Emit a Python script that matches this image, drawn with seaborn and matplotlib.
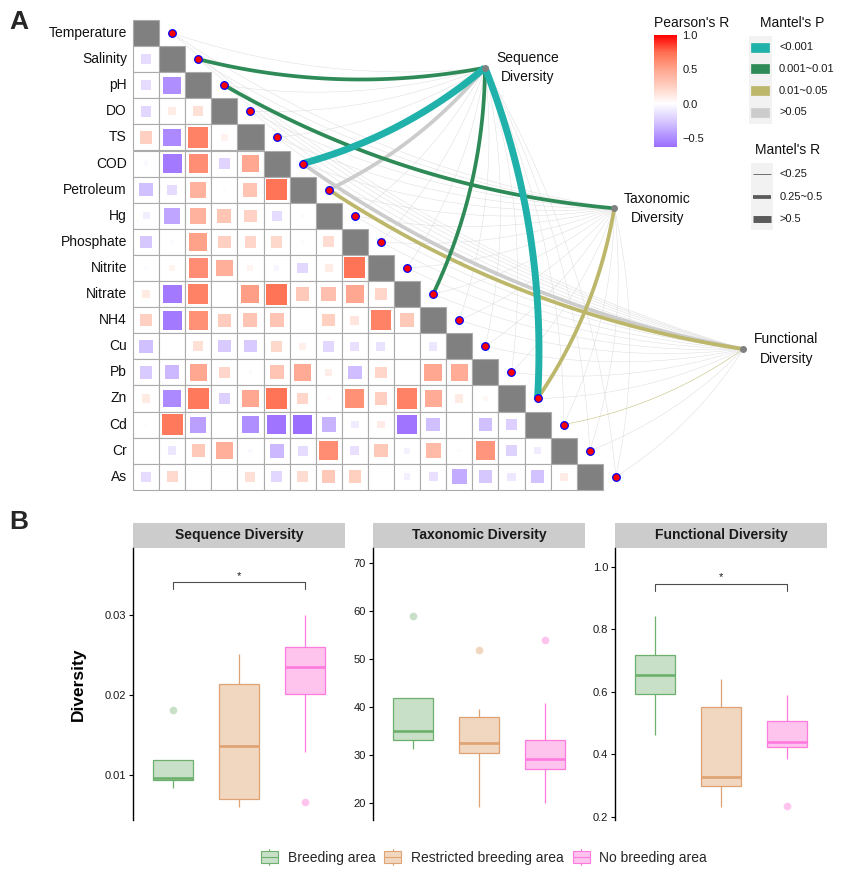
import matplotlib
matplotlib.use("Agg")
import numpy as np
import pandas as pd
import matplotlib.pyplot as plt
import seaborn as sns
from matplotlib.colors import LinearSegmentedColormap, Normalize
from matplotlib.colorbar import ColorbarBase
from matplotlib.patches import Rectangle, Patch
from matplotlib.lines import Line2D
from matplotlib.legend_handler import HandlerBase

# ---------------- panel A data ----------------
env_vars = ["Temperature", "Salinity", "pH", "DO", "TS", "COD", "Petroleum", "Hg",
            "Phosphate", "Nitrite", "Nitrate", "NH4", "Cu", "Pb", "Zn", "Cd", "Cr", "As"]

# lower triangle of the Pearson matrix, row i holds r with columns 0..i-1
pearson_lower = [
    [],
    [-0.16],
    [-0.16, -0.49],
    [-0.19, 0.10, 0.16],
    [0.25, -0.51, 0.66, 0.07],
    [-0.03, -0.58, 0.60, -0.20, 0.49],
    [-0.29, -0.16, 0.42, -0.02, 0.32, 0.72],
    [-0.08, -0.40, 0.42, 0.31, 0.24, -0.16, -0.02],
    [-0.26, -0.02, 0.51, 0.25, 0.22, 0.21, -0.02, 0.19],
    [-0.02, 0.06, 0.61, 0.44, 0.06, -0.05, -0.19, 0.10, 0.72],
    [0.11, -0.58, 0.66, 0.00, 0.53, 0.72, 0.29, 0.35, 0.49, 0.22],
    [0.25, -0.58, 0.59, 0.28, 0.32, 0.32, 0.01, 0.26, 0.14, 0.66, 0.29],
    [-0.29, -0.01, 0.16, -0.25, -0.25, 0.21, 0.08, -0.19, -0.14, -0.13, -0.01, -0.12],
    [-0.25, -0.32, 0.49, 0.22, -0.02, 0.32, 0.47, 0.09, -0.30, 0.22, 0.01, 0.49, 0.46],
    [0.11, -0.51, 0.70, -0.22, 0.49, 0.72, 0.22, 0.03, 0.59, 0.25, 0.66, 0.46, 0.11, 0.04],
    [0.02, 0.70, -0.42, 0.00, -0.49, -0.60, -0.63, -0.34, -0.09, 0.10, -0.60, -0.29, -0.01, -0.29, -0.22],
    [0.00, -0.12, 0.29, 0.44, -0.03, -0.32, -0.16, 0.61, -0.14, 0.29, -0.06, 0.37, -0.02, 0.57, -0.21, -0.09],
    [-0.16, 0.20, 0.01, -0.01, 0.16, -0.19, 0.19, 0.29, 0.26, 0.01, -0.07, -0.14, -0.37, -0.26, -0.11, -0.28, 0.10],
]

targets = ["Sequence\nDiversity", "Taxonomic\nDiversity", "Functional\nDiversity"]

mantel_r_seq = [0.12, 0.38, 0.10, 0.08, 0.15, 0.55, 0.30, 0.10, 0.12, 0.09, 0.40, 0.14, 0.07, 0.11, 0.62, 0.13, 0.06, 0.08]
mantel_p_seq = [0.32, 0.004, 0.41, 0.55, 0.21, 0.0006, 0.07, 0.38, 0.29, 0.47, 0.003, 0.18, 0.66, 0.35, 0.0003, 0.24, 0.71, 0.58]
mantel_r_tax = [0.08, 0.10, 0.36, 0.06, 0.12, 0.14, 0.09, 0.11, 0.07, 0.10, 0.13, 0.12, 0.05, 0.09, 0.31, 0.11, 0.08, 0.06]
mantel_p_tax = [0.52, 0.44, 0.006, 0.73, 0.27, 0.19, 0.48, 0.36, 0.61, 0.42, 0.22, 0.25, 0.81, 0.50, 0.03, 0.33, 0.57, 0.68]
mantel_r_fun = [0.09, 0.07, 0.11, 0.10, 0.13, 0.34, 0.32, 0.08, 0.12, 0.06, 0.15, 0.10, 0.09, 0.12, 0.14, 0.18, 0.07, 0.05]
mantel_p_fun = [0.46, 0.63, 0.31, 0.39, 0.24, 0.06, 0.02, 0.55, 0.28, 0.69, 0.12, 0.37, 0.45, 0.26, 0.09, 0.04, 0.62, 0.74]

p_labels = ["<0.001", "0.001~0.01", "0.01~0.05", ">0.05"]
r_labels = ["<0.25", "0.25~0.5", ">0.5"]

# ---------------- panel B data ----------------
groups = ["Breeding area", "Restricted breeding area", "No breeding area"]
panels = ["Sequence Diversity", "Taxonomic Diversity", "Functional Diversity"]

seq_breeding = [0.0084, 0.0091, 0.0094, 0.0095, 0.00966, 0.0112, 0.0119, 0.0119, 0.0181]
seq_restricted = [0.00594, 0.0065, 0.00695, 0.0098, 0.01368, 0.0185, 0.02142, 0.0235, 0.02518]
seq_none = [0.00665, 0.01293, 0.0201, 0.0222, 0.02351, 0.0248, 0.0260, 0.0281, 0.02995]
tax_breeding = [31.2, 32.5, 33.2, 34.1, 35.0, 38.6, 41.8, 41.8, 59.0]
tax_restricted = [19.2, 27.0, 30.3, 31.4, 32.5, 35.6, 37.8, 39.5, 52.0]
tax_none = [20.0, 25.5, 27.0, 28.0, 29.1, 31.0, 33.0, 40.9, 54.0]
fun_breeding = [0.461, 0.55, 0.592, 0.62, 0.654, 0.69, 0.717, 0.78, 0.842]
fun_restricted = [0.230, 0.27, 0.299, 0.31, 0.327, 0.45, 0.550, 0.60, 0.640]
fun_none = [0.235, 0.384, 0.424, 0.43, 0.438, 0.47, 0.506, 0.55, 0.589]

# ---------------- style ----------------
sns.set_theme(style="white")
plt.rcParams["font.family"] = ["Liberation Sans", "DejaVu Sans"]

W, H = 843, 876
CELL = 26.1
X0, Y0 = 133, 20
fig = plt.figure(figsize=(W / 100, H / 100), dpi=100)

def cx(px):
    return (px - X0) / CELL

def cy(py):
    return (py - Y0) / CELL

# overlay for legends / labels in pixel coordinates
axF = fig.add_axes([0, 0, 1, 1])
axF.set_xlim(0, W)
axF.set_ylim(H, 0)
axF.axis("off")

vmin, vmax = -0.63, 1.0
anchors = [(-0.63, "#9C6EFF"), (-0.5, "#AE8DFF"), (-0.25, "#D8CAFF"), (0.0, "#FFFFFF"),
           (0.25, "#FFD0C2"), (0.5, "#FFA58E"), (0.75, "#FF6E50"), (1.0, "#FF0000")]
cmap = LinearSegmentedColormap.from_list(
    "pearson", [((v - vmin) / (vmax - vmin), c) for v, c in anchors])
norm = Normalize(vmin, vmax)

# ---------------- panel A ----------------
axA = fig.add_axes([0, 1 - 500 / H, 1, 500 / H])
axA.axis("off")
n = len(env_vars)

for i in range(n):
    for j in range(i + 1):
        axA.add_patch(Rectangle((j, i), 1, 1, facecolor="#808080" if i == j else "white",
                                edgecolor="#ABABAB", lw=0.8, zorder=1))
    axA.text(-0.23, i + 0.5, env_vars[i], ha="right", va="center", fontsize=10, color="#111111")

rows, cols, vals = [], [], []
for i, row in enumerate(pearson_lower):
    for j, r in enumerate(row):
        rows.append(i + 0.5)
        cols.append(j + 0.5)
        vals.append(r)
corr_df = pd.DataFrame({"x": cols, "y": rows, "r": vals})
corr_df["absr"] = corr_df["r"].abs()
side_pt = 0.95 * CELL * 0.72
sns.scatterplot(data=corr_df, x="x", y="y", hue="r", palette=cmap, hue_norm=norm,
                size="absr", sizes=(0, side_pt ** 2), size_norm=(0, 1), marker="s",
                linewidth=0, legend=False, ax=axA, zorder=3)

# mantel links
node_px = [(485, 67.7), (614.3, 208.3), (743.3, 349)]
nodes = [(cx(a), cy(b)) for a, b in node_px]
mantel_r = [mantel_r_seq, mantel_r_tax, mantel_r_fun]
mantel_p = [mantel_p_seq, mantel_p_tax, mantel_p_fun]
p_colors = ["#20B2AA", "#2E8B57", "#BDB76B", "#CCCCCC"]
r_widths = [0.35, 2.7, 5.0]

def p_class(p):
    return 0 if p < 0.001 else 1 if p < 0.01 else 2 if p < 0.05 else 3

def r_class(r):
    return 0 if r < 0.25 else 1 if r < 0.5 else 2

def bezier(p0, p1, k=0.11, num=80):
    p0, p1 = np.asarray(p0), np.asarray(p1)
    d = p1 - p0
    ctrl = (p0 + p1) / 2 + k * np.array([d[1], -d[0]])
    t = np.linspace(0, 1, num)[:, None]
    return (1 - t) ** 2 * p0 + 2 * (1 - t) * t * ctrl + t ** 2 * p1

links = []
for t in range(3):
    for i in range(n):
        links.append((r_class(mantel_r[t][i]), -p_class(mantel_p[t][i]), t, i))
links.sort()
for rc, npc, t, i in links:
    pts = bezier(nodes[t], (i + 1.5, i + 0.5))
    col = p_colors[-npc]
    if rc == 0 and -npc == 3:
        col = "#DCDCDC"
    axA.plot(pts[:, 0], pts[:, 1], color=col, lw=r_widths[rc], solid_capstyle="butt",
             zorder=2 + rc)

env_x = [i + 1.5 for i in range(n)]
env_y = [i + 0.5 for i in range(n)]
axA.scatter(env_x, env_y, s=30, c="red", edgecolors="blue", linewidths=0.9, zorder=8)
axA.scatter([p[0] for p in nodes], [p[1] for p in nodes], s=16, c="#808080", zorder=8)
for (nx, ny), lab in zip(nodes, targets):
    axA.text(nx + 43 / CELL, ny, lab, ha="center", va="center", fontsize=10,
             linespacing=1.5, color="#111111")

axA.set_xlim(cx(0), cx(W))
axA.set_ylim(cy(500), cy(0))

# Pearson colourbar
cax = fig.add_axes([654 / W, 1 - 146.7 / H, 22.7 / W, 111.7 / H])
cb = ColorbarBase(cax, cmap=cmap, norm=norm, orientation="vertical")
cb.set_ticks([1.0, 0.5, 0.0, -0.5])
cb.set_ticklabels(["1.0", "0.5", "0.0", "\u22120.5"])
cb.outline.set_visible(False)
cax.tick_params(axis="y", direction="in", length=4, width=0.8, color="white",
                left=True, right=True, labelsize=8, labelcolor="#1A1A1A", pad=4)
axF.text(654, 23, "Pearson's R", ha="left", va="center", fontsize=10, color="#111111")

# Mantel's P legend
axF.text(760, 23, "Mantel's P", ha="left", va="center", fontsize=10, color="#111111")
axF.add_patch(Rectangle((749, 36), 23, 88, facecolor="#F2F2F2", edgecolor="none"))
for k, (lab, col) in enumerate(zip(p_labels, p_colors)):
    yc = 47 + k * 21.8
    axF.add_patch(Rectangle((751, yc - 4.5), 18, 9, facecolor=col, edgecolor=col, lw=0.5))
    axF.text(779, yc, lab, ha="left", va="center", fontsize=8, color="#1A1A1A")

# Mantel's R legend
axF.text(755, 150.5, "Mantel's R", ha="left", va="center", fontsize=10, color="#111111")
axF.add_patch(Rectangle((751, 163), 22, 67, facecolor="#F2F2F2", edgecolor="none"))
for k, (lab, w) in enumerate(zip(r_labels, r_widths)):
    yc = 174.3 + k * 22.5
    axF.plot([753, 771], [yc, yc], color="#5A5A5A", lw=w if k else 0.6, solid_capstyle="butt")
    axF.text(780, yc, lab, ha="left", va="center", fontsize=8, color="#1A1A1A")

axF.text(19, 22, "A", ha="center", va="center", fontsize=19, fontweight="bold")
axF.text(19, 522, "B", ha="center", va="center", fontsize=19, fontweight="bold")

# ---------------- panel B ----------------
panel_data = {
    "Sequence Diversity": [seq_breeding, seq_restricted, seq_none],
    "Taxonomic Diversity": [tax_breeding, tax_restricted, tax_none],
    "Functional Diversity": [fun_breeding, fun_restricted, fun_none],
}
records = []
for p in panels:
    for g, values in zip(groups, panel_data[p]):
        for v in values:
            records.append({"panel": p, "group": g, "value": v})
box_df = pd.DataFrame(records)

fills = ["#C8DFC8", "#F2D7C0", "#FFC4EE"]
edges = ["#6DB06D", "#DFA272", "#FF7ADF"]

panel_left = [133, 373, 615]
ylims = [(0.004375, 0.038375), (16.39, 73.2), (0.1894, 1.0598)]
yticks = [[0.01, 0.02, 0.03], [20, 30, 40, 50, 60, 70], [0.2, 0.4, 0.6, 0.8, 1.0]]
ytlabels = [["0.01", "0.02", "0.03"], ["20", "30", "40", "50", "60", "70"],
            ["0.2", "0.4", "0.6", "0.8", "1.0"]]
brackets = {0: (0.0333, 0.0341, 0.03444), 2: (0.923, 0.944, 0.9558)}

for k, p in enumerate(panels):
    ax = fig.add_axes([panel_left[k] / W, 1 - 820 / H, 212 / W, 272 / H])
    sub = box_df[box_df["panel"] == p]
    for g, fc, ec in zip(groups, fills, edges):
        sns.boxplot(data=sub[sub["group"] == g], x="group", y="value", order=groups,
                    color=fc, linecolor=ec, saturation=1, width=0.6, linewidth=0.9,
                    showcaps=False, ax=ax,
                    medianprops=dict(linewidth=1.9, color=ec),
                    flierprops=dict(marker="o", markerfacecolor=fc, markeredgecolor=fc,
                                    markersize=4.5))
    ax.set_xlim(-0.6, 2.6)
    ax.set_ylim(*ylims[k])
    ax.set_yticks(yticks[k])
    ax.set_yticklabels(ytlabels[k])
    ax.set_xticks([])
    ax.set_xlabel("")
    ax.set_ylabel("")
    for s in ["top", "right", "bottom"]:
        ax.spines[s].set_visible(False)
    ax.spines["left"].set_color("black")
    ax.spines["left"].set_linewidth(1.0)
    ax.tick_params(axis="y", left=True, length=3, width=0.8, color="black",
                   labelsize=8, labelcolor="#1A1A1A", pad=2)
    ax.add_patch(Rectangle((0, 1), 1, 25 / 272, transform=ax.transAxes, facecolor="#CCCCCC",
                           edgecolor="none", clip_on=False))
    ax.text(0.5, 1 + 12.5 / 272, p, transform=ax.transAxes, ha="center", va="center",
            fontsize=10, fontweight="bold", color="#1A1A1A")
    if k in brackets:
        y0, y1, ys = brackets[k]
        ax.plot([0, 0, 2, 2], [y0, y1, y1, y0], color="#4D4D4D", lw=0.8)
        ax.text(1, ys, "*", ha="center", va="baseline", fontsize=8, color="#1A1A1A")

axF.text(78, 684, "Diversity", rotation=90, ha="center", va="center", fontsize=12.5,
         fontweight="bold", color="black")


class BoxKey(HandlerBase):
    def create_artists(self, legend, orig_handle, xdescent, ydescent, width, height,
                       fontsize, trans):
        fc = orig_handle.get_facecolor()
        ec = orig_handle.get_edgecolor()
        x0, y0 = -xdescent, -ydescent
        xm, ym = x0 + width / 2, y0 + height / 2
        box = Rectangle((x0, y0 + 0.12 * height), width, 0.76 * height, facecolor=fc,
                        edgecolor=ec, lw=0.8, transform=trans)
        med = Line2D([x0, x0 + width], [ym, ym], color=ec, lw=0.8, transform=trans)
        top = Line2D([xm, xm], [y0 + 0.88 * height, y0 + height], color=ec, lw=0.8, transform=trans)
        bot = Line2D([xm, xm], [y0, y0 + 0.12 * height], color=ec, lw=0.8, transform=trans)
        return [box, med, top, bot]


handles = [Patch(facecolor=fc, edgecolor=ec) for fc, ec in zip(fills, edges)]
fig.legend(handles, groups, loc="center", bbox_to_anchor=(484 / W, 1 - 857 / H), ncol=3,
           frameon=False, fontsize=10, handler_map={Patch: BoxKey()}, handlelength=1.22,
           handleheight=1.5, handletextpad=0.7, columnspacing=0.65)

fig.savefig("out.png", dpi=100)
